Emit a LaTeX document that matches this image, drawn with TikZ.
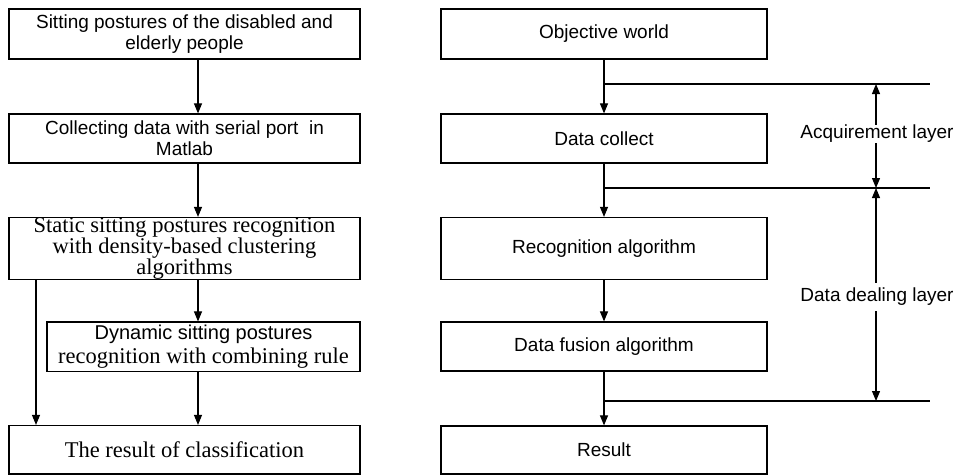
\documentclass[tikz,border=0pt]{standalone}
\usepackage{fontspec}
\setmainfont{Liberation Serif}
\newfontfamily\arialf{Liberation Sans}
\usetikzlibrary{arrows.meta}
\begin{document}
\begin{tikzpicture}[x=1pt,y=-1pt,
  boxbase/.style={draw=black, line width=1.2pt, inner sep=0pt, align=center},
  lbox/.style={boxbase, minimum width=351pt},
  rbox/.style={boxbase, minimum width=326pt},
  sans/.style={font=\arialf\fontsize{19}{21}\selectfont},
  serif/.style={font=\fontsize{22.5}{21}\selectfont},
  arr/.style={line width=1.1pt, -{Triangle[length=10pt,width=8pt]}},
  rulel/.style={line width=1.1pt},
  lay/.style={sans, inner xsep=0pt, fill=white}
]
\useasboundingbox (0,0) rectangle (957,475);

% left column
\node[lbox, sans, minimum height=50pt] (l1) at (184.5,34) {Sitting postures of the disabled and\\elderly people};
\node[lbox, sans, minimum height=49pt] (l2) at (184.5,138.5) {Collecting data with serial port\ \ in\\Matlab};
\node[lbox, serif, minimum height=62pt] (l3) at (184.5,248.5) {Static sitting postures recognition\\with density-based clustering\\algorithms};
\node[boxbase, minimum width=313pt, minimum height=49.5pt, font=\fontsize{22.5}{23.5}\selectfont] (l4) at (203.5,346.75) {{\arialf\fontsize{20}{23.5}\selectfont Dynamic sitting postures}\\recognition with combining rule};
\node[lbox, serif, minimum height=48.5pt] (l5) at (184.5,449.75) {The result of classification};

\coordinate (cx) at (198,0);
\coordinate (cl) at (36,0);
\draw[arr] (cx |- l1.south) -- (cx |- l2.north);
\draw[arr] (cx |- l2.south) -- (cx |- l3.north);
\draw[arr] (cx |- l3.south) -- (cx |- l4.north);
\draw[arr] (cx |- l4.south) -- (cx |- l5.north);
\draw[arr] (cl |- l3.south) -- (cl |- l5.north);

% right column
\node[rbox, sans, minimum height=50pt] (r1) at (604,34) {Objective world};
\node[rbox, sans, minimum height=49pt] (r2) at (604,138.5) {Data collect};
\node[rbox, sans, minimum height=62pt] (r3) at (604,248.5) {Recognition algorithm};
\node[rbox, sans, minimum height=49pt] (r4) at (604,346.5) {Data fusion algorithm};
\node[rbox, sans, minimum height=48pt] (r5) at (604,450) {Result};

\draw[arr] (r1) -- (r2);
\draw[arr] (r2) -- (r3);
\draw[arr] (r3) -- (r4);
\draw[arr] (r4) -- (r5);

\coordinate (h1) at (604,84);   \coordinate (h1e) at (930,84);
\coordinate (h2) at (604,188);  \coordinate (h2e) at (930,188);
\coordinate (h3) at (604,401);  \coordinate (h3e) at (930,401);
\draw[rulel] (h1) -- (h1e);
\draw[rulel] (h2) -- (h2e);
\draw[rulel] (h3) -- (h3e);

\coordinate (a1) at (876,84);
\coordinate (a2) at (876,188);
\coordinate (a3) at (876,401);
\node[lay, inner ysep=0pt] (acq) at (877,134) {Acquirement layer};
\node[lay, inner ysep=5pt] (dd) at (877,297) {Data dealing layer};
\draw[arr] (acq.north -| a1) -- (a1);
\draw[arr] (acq.south -| a1) -- (a2);
\draw[arr] (dd.north -| a1) -- (a2);
\draw[arr] (dd.south -| a1) -- (a3);
\end{tikzpicture}
\end{document}
